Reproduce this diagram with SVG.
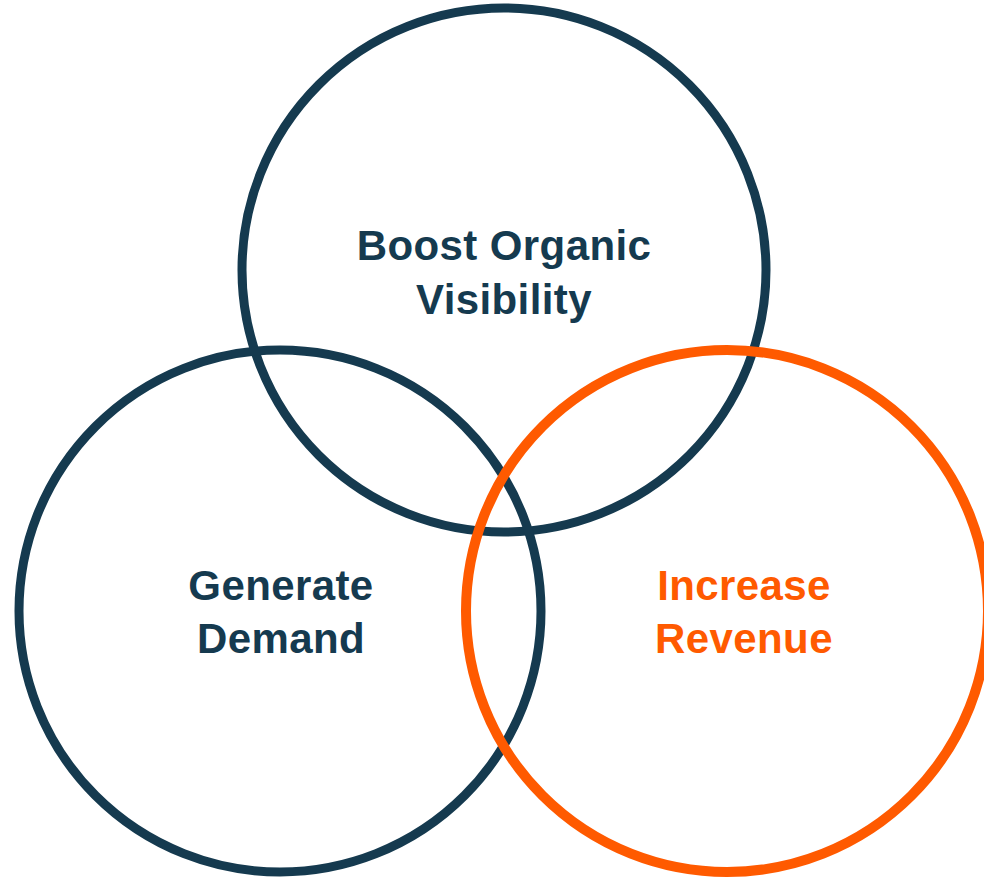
<svg xmlns="http://www.w3.org/2000/svg" width="984" height="877" viewBox="0 0 984 877">
  <style>
    .ring { fill: none; stroke-width: 9; }
    .navy { stroke: #153a4f; }
    .orange { stroke: #ff5a00; stroke-width: 10; }
    .label { font-family: "Liberation Sans", Arial, sans-serif; font-weight: bold; font-size: 42px; letter-spacing: 0.4px; text-anchor: middle; }
    .label-navy { fill: #153a4f; }
    .label-orange { fill: #ff5a00; }
  </style>
  <rect width="984" height="877" fill="#ffffff"/>
  <g id="boost-organic-visibility">
    <circle class="ring navy" cx="504" cy="270" r="262"/>
    <text class="label label-navy" x="504" y="260">Boost Organic</text>
    <text class="label label-navy" x="504" y="314">Visibility</text>
  </g>
  <g id="generate-demand">
    <circle class="ring navy" cx="280" cy="611" r="261"/>
    <text class="label label-navy" x="281" y="600">Generate</text>
    <text class="label label-navy" x="281" y="653">Demand</text>
  </g>
  <g id="increase-revenue">
    <circle class="ring orange" cx="727" cy="611" r="261"/>
    <text class="label label-orange" x="744" y="600">Increase</text>
    <text class="label label-orange" x="744" y="653">Revenue</text>
  </g>
  <g id="connectors"/>
</svg>
